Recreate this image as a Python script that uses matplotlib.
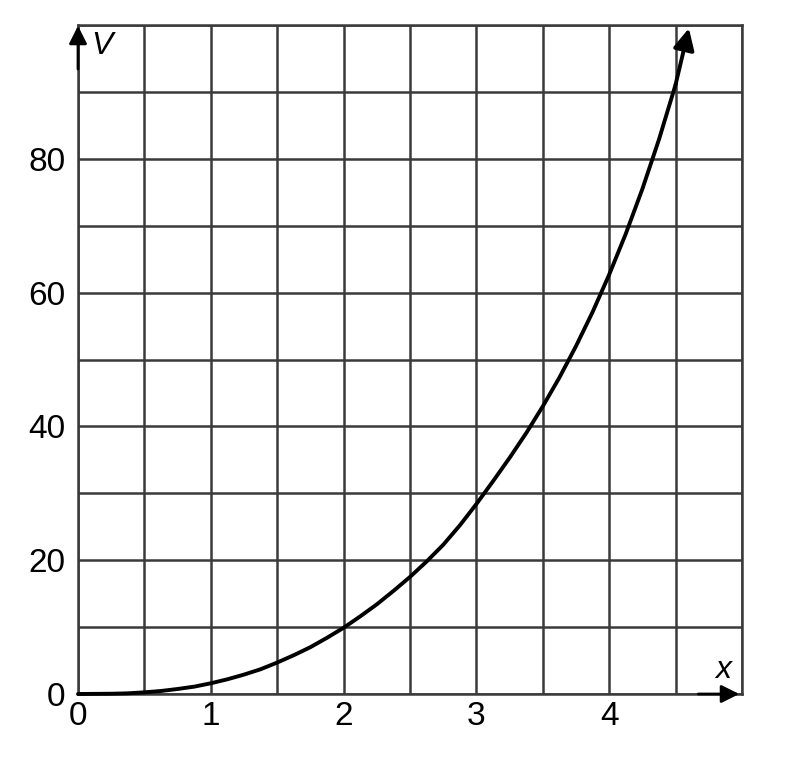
import numpy as np
import matplotlib.pyplot as plt

plt.rcParams['font.family'] = ['Liberation Sans', 'DejaVu Sans']

# values (every 1/8 unit)
x_vals = [0, 0.25, 0.375, 0.5, 0.625, 0.75, 0.875, 1.0, 1.125, 1.25, 1.375,
          1.5, 1.625, 1.75, 1.875, 2.0, 2.125, 2.25, 2.375, 2.5, 2.625,
          2.75, 2.875, 3.0, 3.125, 3.25, 3.375, 3.5, 3.625, 3.75, 3.875,
          4.0, 4.125, 4.25, 4.375, 4.5]
v_vals = [0, 0.04, 0.1, 0.25, 0.45, 0.75, 1.1, 1.6, 2.2, 2.9, 3.7,
          4.7, 5.8, 7.0, 8.4, 9.9, 11.6, 13.4, 15.4, 17.5, 19.8,
          22.3, 25.2, 28.4, 31.8, 35.3, 39.0, 43.0, 47.3, 52.0, 57.1,
          62.7, 68.8, 75.5, 82.9, 91.1]
arrow_tip = (4.6, 99.5)

x_ticks = [0, 1, 2, 3, 4]
y_ticks = [0, 20, 40, 60, 80]

fig = plt.figure(figsize=(8.1, 7.78), dpi=100)
ax = fig.add_axes([78 / 810, 84 / 778, 664 / 810, 669 / 778])

ax.set_xlim(0, 5)
ax.set_ylim(0, 100)

# grid every half unit / every 10
ax.set_xticks(np.arange(0, 5.01, 0.5), minor=True)
ax.set_yticks(np.arange(0, 100.1, 10), minor=True)
ax.set_xticks(x_ticks)
ax.set_yticks(y_ticks)
ax.grid(True, which='both', color='#3a3a3a', linewidth=1.8)
ax.set_xticklabels([str(t) for t in x_ticks])
ax.set_yticklabels([str(t) for t in y_ticks])
ax.tick_params(which='both', length=0, labelsize=24)
ax.tick_params(axis='x', pad=5)
ax.tick_params(axis='y', pad=9)
for s in ax.spines.values():
    s.set_color('#3a3a3a')
    s.set_linewidth(1.8)

# axis arrows
ax.annotate('', xy=(0, 100.3), xytext=(0, 93), annotation_clip=False,
            arrowprops=dict(arrowstyle='-|>', color='black', lw=2,
                            mutation_scale=27))
ax.annotate('', xy=(5.0, 0), xytext=(4.65, 0), annotation_clip=False,
            arrowprops=dict(arrowstyle='-|>', color='black', lw=2,
                            mutation_scale=27))

ax.text(0.18, 96.8, 'V', fontsize=23, style='italic', ha='center', va='center')
ax.text(4.86, 3.6, 'x', fontsize=23, style='italic', ha='center', va='center')

# the curve
ax.plot(x_vals, v_vals, color='black', linewidth=2.8, solid_capstyle='round',
        solid_joinstyle='round', clip_on=False, zorder=5)
ax.annotate('', xy=arrow_tip, xytext=(x_vals[-1], v_vals[-1]),
            annotation_clip=False,
            arrowprops=dict(arrowstyle='-|>', color='black', lw=2.8,
                            mutation_scale=32, shrinkA=0, shrinkB=0))

fig.savefig('out.png', dpi=100)
